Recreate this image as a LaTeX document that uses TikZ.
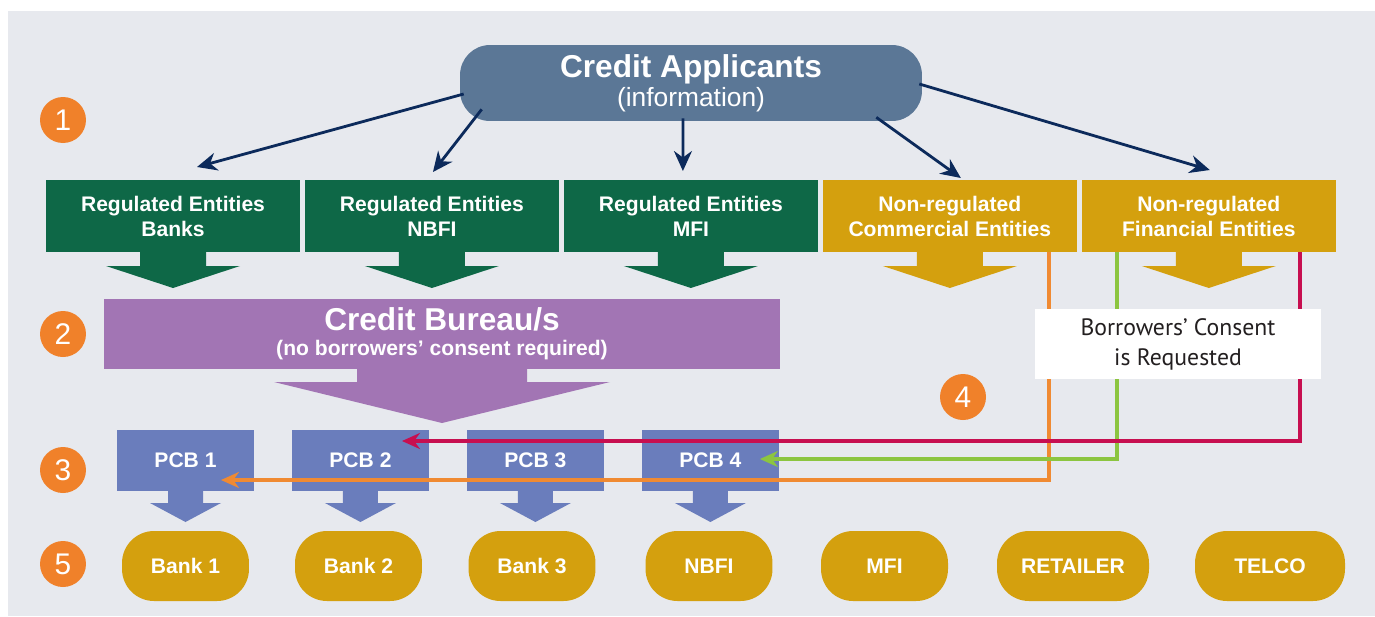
\documentclass[tikz,border=0pt]{standalone}
\usepackage{fontspec}
\setmainfont{Liberation Sans}
\newfontfamily\consentfont{PT Sans}
\usetikzlibrary{positioning,arrows.meta,calc}
\definecolor{cbg}{HTML}{E7E9EE}
\definecolor{capp}{HTML}{5B7796}
\definecolor{cgreen}{HTML}{0E6847}
\definecolor{cgold}{HTML}{D4A00E}
\definecolor{cpurple}{HTML}{A275B4}
\definecolor{cpcb}{HTML}{6A7DBC}
\definecolor{cnum}{HTML}{F0812A}
\definecolor{cnavy}{HTML}{0C2A5B}
\definecolor{corange}{HTML}{F08A32}
\definecolor{clime}{HTML}{8CC540}
\definecolor{ccrimson}{HTML}{C70F50}
\definecolor{ctext}{HTML}{231F20}
% #1 node, #2 colour, #3 stem half width, #4 stem length, #5 head half width, #6 head length
\newcommand{\blockarrow}[6]{\fill[#2] (#1.south) ++(-#3,0) -- ++(0,#4) -- ++(#3-#5,0) -- ++(#5,#6) -- ++(#5,-#6) -- ++(#3-#5,0) -- ++(0,-#4) -- cycle;}

\begin{document}
\begin{tikzpicture}[x=0.02cm, y=-0.02cm,
  box/.style={minimum width=5.08cm, minimum height=1.44cm, inner sep=0pt, outer sep=0pt, align=center, text=white, font=\fontsize{12}{14.2}\selectfont\bfseries},
  pcb/.style={fill=cpcb, minimum width=2.74cm, minimum height=1.22cm, inner sep=0pt, outer sep=0pt, text=white, font=\fontsize{12}{14}\selectfont\bfseries},
  lender/.style={fill=cgold, rounded corners=0.64cm, minimum width=2.54cm, minimum height=1.4cm, inner sep=0pt, outer sep=0pt, text=white, font=\fontsize{12}{14}\selectfont\bfseries},
  num/.style={circle, fill=cnum, minimum size=0.92cm, inner sep=0pt, text=white, font=\fontsize{17}{17}\selectfont},
  pull/.style={-{Stealth[length=4mm, width=3.6mm]}, line width=1.6pt, cnavy},
  feed/.style={-{Stealth[length=3.6mm, width=3.2mm]}, line width=2.4pt},
  node distance=0.1cm]
 \useasboundingbox (0,0) rectangle (1375,616);
 \fill[cbg] (8,11) rectangle (1375,616);
 \node[fill=capp, rounded corners=0.6cm, minimum width=9.24cm, minimum height=1.52cm, inner sep=0pt, align=center, text=white, font=\fontsize{18}{17}\selectfont\bfseries] (appl) at (691,83) {\raisebox{-2pt}{Credit Applicants}\\[1.5pt]{\fontsize{15}{17}\selectfont\mdseries (information)}};
 \node[box, fill=cgreen] (regb) at (173,216) {Regulated Entities\\Banks};
 \node[box, fill=cgreen, right=of regb] (regn) {Regulated Entities\\NBFI};
 \node[box, fill=cgreen, right=of regn] (regm) {Regulated Entities\\MFI};
 \node[box, fill=cgold, right=of regm] (nonc) {Non-regulated\\Commercial Entities};
 \node[box, fill=cgold, right=of nonc] (nonf) {Non-regulated\\Financial Entities};
 \draw[pull] ($(appl.west)+(4,11)$) -- ($(regb.north)+(24,-13)$);
 \draw[pull] ($(appl.south west)+(22,-12)$) -- ($(regn.north)+(1,-8)$);
 \draw[pull] ($(appl.south)+(-8,-3)$) -- ($(regm.north)+(-8,-9)$);
 \draw[pull] ($(appl.south east)+(-46,-4)$) -- ($(nonc.north)+(11,-2)$);
 \draw[pull] ($(appl.east)+(-3,1)$) -- ($(nonf.north)+(1,-10)$);
 \foreach \n/\col in {regb/cgreen,regn/cgreen,regm/cgreen,nonc/cgold,nonf/cgold} \blockarrow{\n}{\col}{33}{14}{67}{22};
 \node[fill=cpurple, minimum width=13.52cm, minimum height=1.4cm, inner sep=0pt, outer sep=0pt, align=center, text=white, font=\fontsize{18}{14.2}\selectfont\bfseries] (bureau) at (442,334) {Credit Bureau/s\\{\fontsize{12}{14.2}\selectfont (no borrowers’ consent required)}};
 \blockarrow{bureau}{cpurple}{85}{13}{168}{41}
 \node[pcb] (pcb1) at (185.5,460.5) {PCB 1};
 \node[pcb, right=0.76cm of pcb1] (pcb2) {PCB 2};
 \node[pcb, right=0.76cm of pcb2] (pcb3) {PCB 3};
 \node[pcb, right=0.76cm of pcb3] (pcb4) {PCB 4};
 \foreach \n in {pcb1,pcb2,pcb3,pcb4} \blockarrow{\n}{cpcb}{17.5}{12}{35.5}{19};
 \node[lender] (bank1) at (185.5,566) {Bank 1};
 \node[lender] (bank2) at (358.5,566) {Bank 2};
 \node[lender] (bank3) at (532,566) {Bank 3};
 \node[lender] (nbfi) at (709,566) {NBFI};
 \node[lender] (mfi) at (884.5,566) {MFI};
 \node[lender, minimum width=3.04cm] (retail) at (1073,566) {RETAILER};
 \node[lender, minimum width=3cm] (telco) at (1270,566) {TELCO};
 \draw[feed, corange] ($(nonc.south east)+(-28,0)$) |- ($(pcb1.center)+(35.5,19.5)$);
 \draw[feed, clime] ($(nonf.south west)+(35,0)$) |- ($(pcb4.center)+(49.5,-1.5)$);
 \draw[feed, ccrimson] ($(nonf.south east)+(-36,0)$) |- ($(pcb2.center)+(41.5,-19.5)$);
 \node[fill=white, minimum width=5.72cm, minimum height=1.4cm, inner sep=0pt, align=center, text=ctext, font=\consentfont\fontsize{13.5}{17}\selectfont] (consent) at (1178,344) {Borrowers’ Consent\\is Requested};
 \node[num] (n1) at (63,120) {1};
 \node[num] (n2) at (63,334) {2};
 \node[num] (n3) at (63,470) {3};
 \node[num] (n4) at (963,397) {4};
 \node[num] (n5) at (63,564) {5};
\end{tikzpicture}
\end{document}
